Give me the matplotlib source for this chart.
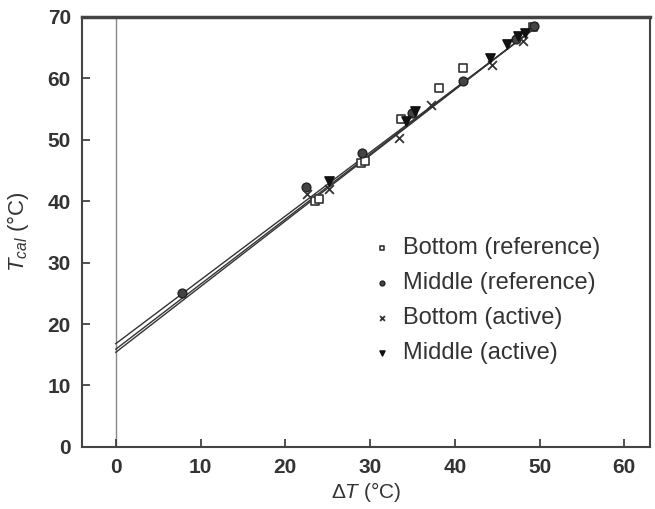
import numpy as np
import matplotlib.pyplot as plt

plt.rcParams['font.family'] = ['Liberation Sans', 'DejaVu Sans']
plt.rcParams['mathtext.fontset'] = 'custom'
plt.rcParams['mathtext.rm'] = 'Liberation Sans'
plt.rcParams['mathtext.it'] = 'Liberation Sans:italic'

# data
bot_ref_x = [23.5, 24.0, 28.9, 29.4, 33.6, 38.1, 41.0, 49.2]
bot_ref_y = [40.0, 40.3, 46.2, 46.5, 53.3, 58.4, 61.7, 68.3]

mid_ref_x = [7.8, 22.4, 29.0, 35.0, 41.0, 47.2, 49.3]
mid_ref_y = [25.1, 42.3, 47.9, 54.4, 59.5, 66.4, 68.5]

bot_act_x = [22.6, 25.1, 33.4, 37.2, 44.4, 48.0]
bot_act_y = [41.2, 41.9, 50.3, 55.7, 62.2, 66.0]

mid_act_x = [25.1, 34.2, 35.3, 44.2, 46.1, 47.5, 48.3]
mid_act_y = [43.2, 53.0, 54.6, 63.3, 65.5, 66.8, 67.3]

# fitted lines: intercept, slope
fit_a = [16.8, 15.9, 15.4]
fit_b = [1.038, 1.058, 1.068]
fit_xmax = 49.5

fig = plt.figure(figsize=(6.55, 5.09), dpi=100)
ax = fig.add_axes([0.125, 0.122, 0.867, 0.845])

ax.axvline(0, color='#888888', lw=1.0, zorder=1)

xx = np.array([0, fit_xmax])
for a, b in zip(fit_a, fit_b):
    ax.plot(xx, a + b * xx, color='#333333', lw=1.0, zorder=2)

ax.scatter(bot_ref_x, bot_ref_y, marker='s', s=40, facecolor='white',
           edgecolor='#333333', lw=1.2, zorder=3, label='Bottom (reference)')
ax.scatter(mid_ref_x, mid_ref_y, marker='o', s=40, facecolor='#444444',
           edgecolor='#222222', lw=1.0, zorder=3, label='Middle (reference)')
ax.scatter(bot_act_x, bot_act_y, marker='x', s=40, color='#333333',
           lw=1.3, zorder=3, label='Bottom (active)')
ax.scatter(mid_act_x, mid_act_y, marker='v', s=45, color='#111111',
           zorder=3, label='Middle (active)')

ax.set_xlim(-4, 63)
ax.set_ylim(0, 70)
ax.set_xticks(range(0, 61, 10))
ax.set_yticks(range(0, 71, 10))
ax.tick_params(direction='in', length=6, width=1.2, labelsize=15, colors='#333333')
ax.tick_params(axis='x', pad=8)
ax.tick_params(axis='y', pad=8)
for lab in ax.get_xticklabels() + ax.get_yticklabels():
    lab.set_fontweight('bold')
    lab.set_color('#333333')
for s in ax.spines.values():
    s.set_linewidth(1.5)
    s.set_color('#444444')
ax.spines['top'].set_linewidth(2.5)

ax.set_xlabel(r'Δ$\mathit{T}$ (°C)', fontsize=15, color='#333333', labelpad=2)
ax.set_ylabel(r'$\mathit{T}_{cal}$ (°C)', fontsize=16, color='#333333', labelpad=12)

leg = ax.legend(loc='center right', bbox_to_anchor=(0.95, 0.34), frameon=False,
                fontsize=17, handletextpad=0.4, labelspacing=0.55,
                markerscale=0.55, handlelength=1.0)
for t in leg.get_texts():
    t.set_color('#333333')

fig.savefig('out.png', dpi=100)
